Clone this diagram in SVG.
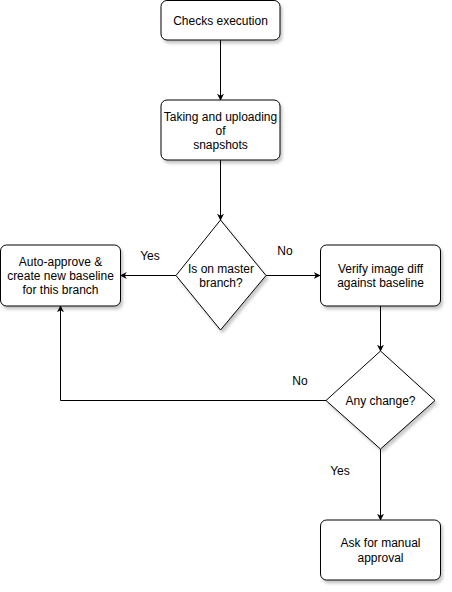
<svg xmlns="http://www.w3.org/2000/svg" width="452" height="592" viewBox="0 0 452 592">
<style>
.n{fill:#fff;stroke:#000;stroke-width:1;filter:url(#sh)}
.t{font-family:"Liberation Sans",Arial,sans-serif;font-size:12px;fill:#000;text-anchor:middle;dominant-baseline:central}
.c{fill:none;stroke:#000;stroke-width:1;marker-end:url(#ar)}
</style>
<defs>
<filter id="sh" x="-20%" y="-20%" width="140%" height="150%">
<feDropShadow dx="2" dy="3" stdDeviation="1.5" flood-color="#000" flood-opacity="0.22"/>
</filter>
<marker id="ar" viewBox="0 0 10 10" refX="9" refY="5" markerWidth="7" markerHeight="7" markerUnits="userSpaceOnUse" orient="auto">
<path d="M0,0 L10,5 L0,10 L3,5 Z" fill="#000"/>
</marker>
</defs>
<rect width="452" height="592" fill="#fff"/>
<g id="connectors">
<path class="c" d="M220.5,40 V100"/>
<path class="c" d="M220.5,160 V220"/>
<path class="c" d="M176,275.5 H120.5"/>
<path class="c" d="M266,275.5 H320"/>
<path class="c" d="M380.5,306 V351"/>
<path class="c" d="M326,400.5 H60.5 V306"/>
<path class="c" d="M380.5,449 V520"/>
<text class="t" x="150" y="256">Yes</text>
<text class="t" x="285" y="251">No</text>
<text class="t" x="300" y="381">No</text>
<text class="t" x="340" y="471">Yes</text>
</g>
<g id="checks">
<rect class="n" x="161" y="0.5" width="119" height="39.5" rx="6"/>
<text class="t" x="220.5" y="20.5">Checks execution</text>
</g>
<g id="taking">
<rect class="n" x="161" y="100" width="119" height="60" rx="6"/>
<text class="t" x="220.5" y="117">Taking and uploading</text>
<text class="t" x="220.5" y="131">of</text>
<text class="t" x="220.5" y="145"> snapshots</text>
</g>
<g id="master">
<path class="n" d="M220.5,220 L266,275.5 L220.5,330 L176,275.5 Z"/>
<text class="t" x="221" y="269">Is on master</text>
<text class="t" x="221" y="283">branch?</text>
</g>
<g id="auto">
<rect class="n" x="0.5" y="245" width="120" height="61" rx="6"/>
<text class="t" x="60.5" y="262">Auto-approve &amp;</text>
<text class="t" x="60.5" y="276">create new baseline</text>
<text class="t" x="60.5" y="290">for this branch</text>
</g>
<g id="verify">
<rect class="n" x="320.5" y="245" width="120" height="61" rx="6"/>
<text class="t" x="380.5" y="269">Verify image diff</text>
<text class="t" x="380.5" y="283">against baseline</text>
</g>
<g id="change">
<path class="n" d="M380.5,351 L435,400.5 L380.5,449 L326,400.5 Z"/>
<text class="t" x="380.5" y="400.5">Any change?</text>
</g>
<g id="manual">
<rect class="n" x="320.5" y="520" width="120" height="60" rx="6"/>
<text class="t" x="380.5" y="543">Ask for manual</text>
<text class="t" x="380.5" y="558">approval</text>
</g>
</svg>
